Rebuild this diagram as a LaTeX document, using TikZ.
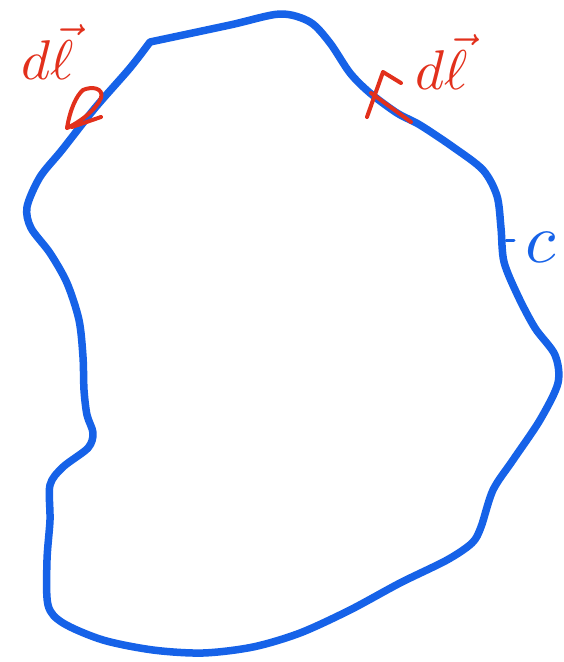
\documentclass[tikz,border=0pt]{standalone}
\usepackage{amsmath}
\definecolor{penblue}{RGB}{22,98,232}
\definecolor{penred}{RGB}{226,48,28}
\tikzset{
  curveline/.style={draw=penblue, line width=7.5pt, line cap=round, line join=round},
  redstroke/.style={draw=penred, line width=4pt, line cap=round, line join=round},
  redlabel/.style={text=penred, scale=5.6, inner sep=0pt},
  bluelabel/.style={text=penblue, scale=7, inner sep=0pt}
}
\begin{document}
\begin{tikzpicture}[x=1pt,y=-1pt]
\useasboundingbox (0,0) rectangle (564,662);
\fill[white] (0,0) rectangle (564,662);
% closed curve C
\draw[curveline] plot[smooth, tension=0.5] coordinates {
(150,42) (230,25) (280,14) (310,22) (330,43) (350,73) (370,93) (397,113)
(420,125) (453,147) (483,170) (497,196) (501,228) (504,262) (518,296)
(535,328) (555,355) (558,383) (540,420) (513,460) (493,490) (481,527)
(472,543) (447,560) (400,583) (350,610) (300,633) (253,647) (203,653)
(153,650) (103,640) (63,623) (48,605) (47,560) (50,520) (50,485)
(63,467) (88,448) (93,433) (87,415) (84,390) (83,357) (79,320) (67,283)
(50,253) (31,228) (27,207) (40,177) (62,150) (95,108) (130,68) (150,42)};
% small tick next to the curve
\draw[draw=penblue, line width=3pt, line cap=round] (506,240) -- (514,240);
% arrowheads of dl
\draw[redstroke] (67,128) .. controls (70,110) and (76,96) .. (83,90)
  .. controls (92,86) and (104,88) .. (101,98)
  .. controls (96,110) and (80,122) .. (67,128);
\draw[redstroke] (72,127) -- (101,117);
\draw[redstroke] (367,117) -- (383,72) -- (401,83);
\draw[redstroke] (371,93) -- (411,122);
% labels
\node[redlabel] (dlL) at (48,52) {$d\vec{\ell}$};
\node[redlabel] (dlR) at (442,62) {$d\vec{\ell}$};
\node[bluelabel] (c) at (541,247) {$c$};
\end{tikzpicture}
\end{document}
